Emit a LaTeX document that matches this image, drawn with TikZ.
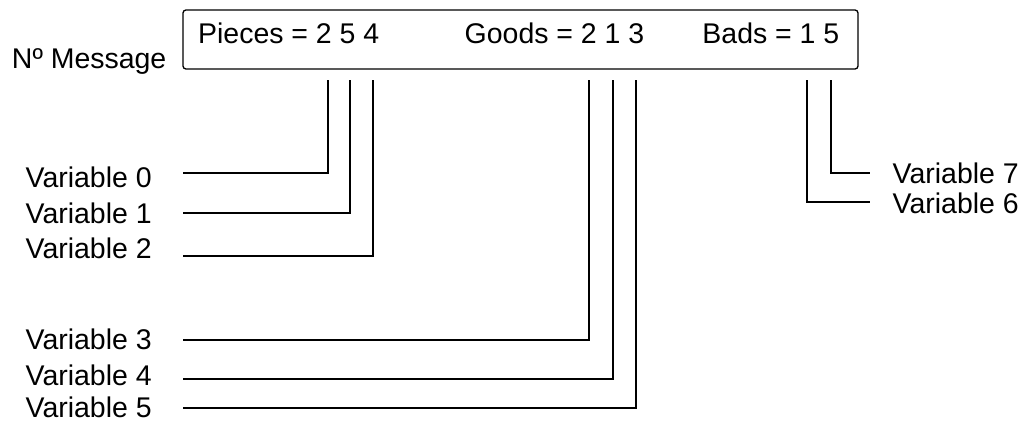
\documentclass[tikz,border=0pt]{standalone}
\usepackage{fontspec}
\setmainfont{Liberation Sans}
\usepackage{tikz}

\begin{document}
\begin{tikzpicture}[x=0.2mm,y=-0.2mm,line width=0.75pt,
	lbl/.style={inner sep=0pt,font=\fontsize{16.2}{19}\selectfont}]
	\useasboundingbox (0,0) rectangle (1024,423);
	%message box + fields
		\draw[rounded corners=0.6mm] (183,10) rectangle (858,69);
		\node[lbl,anchor=base east] (nomsg) at (167,68) {Nº Message};
		\node[lbl,anchor=base east] (pieces) at (380,43) {Pieces = 2 5 4};
		\node[lbl,anchor=base east] (goods) at (645,43) {Goods = 2 1 3};
		\node[lbl,anchor=base east] (bads) at (840,43) {Bads = 1 5};
	%taps under the digits
		\coordinate (tap0) at (328,80);
		\coordinate (tap1) at (350,80);
		\coordinate (tap2) at (373,80);
		\coordinate (tap3) at (589,80);
		\coordinate (tap4) at (613,80);
		\coordinate (tap5) at (636,80);
		\coordinate (tap6) at (807,80);
		\coordinate (tap7) at (831,80);
	%line ends
		\coordinate (end0) at (183,173);
		\coordinate (end1) at (183,213);
		\coordinate (end2) at (183,256);
		\coordinate (end3) at (183,340);
		\coordinate (end4) at (183,379);
		\coordinate (end5) at (183,408);
		\coordinate (end6) at (870,202);
		\coordinate (end7) at (870,173);
	%left variables
		\node[lbl,anchor=base west] (var0) at (25,187) {Variable 0};
		\node[lbl,anchor=base west] (var1) at (25,223) {Variable 1};
		\node[lbl,anchor=base west] (var2) at (25,258) {Variable 2};
		\node[lbl,anchor=base west] (var3) at (25,349) {Variable 3};
		\node[lbl,anchor=base west] (var4) at (25,385) {Variable 4};
		\node[lbl,anchor=base west] (var5) at (25,417) {Variable 5};
	%right variables
		\node[lbl,anchor=base west] (var6) at (892,213) {Variable 6};
		\node[lbl,anchor=base west] (var7) at (892,183) {Variable 7};
	%connectors
		\draw (tap0) |- (end0);
		\draw (tap1) |- (end1);
		\draw (tap2) |- (end2);
		\draw (tap3) |- (end3);
		\draw (tap4) |- (end4);
		\draw (tap5) |- (end5);
		\draw (tap6) |- (end6);
		\draw (tap7) |- (end7);
\end{tikzpicture}
\end{document}
